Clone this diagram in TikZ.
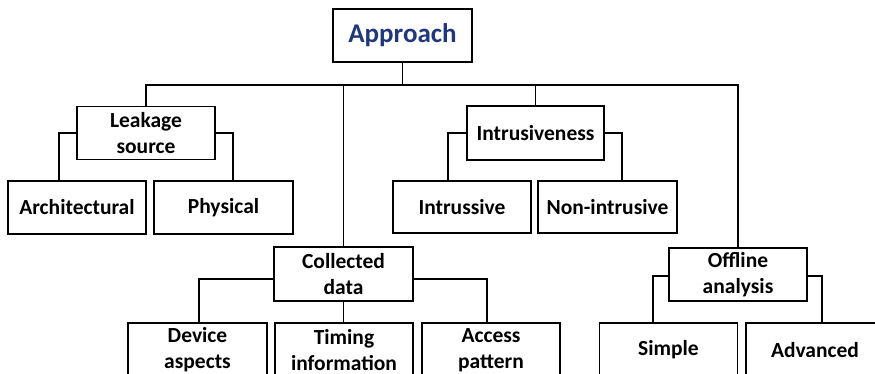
\documentclass[tikz,border=0pt]{standalone}
\usepackage{fontspec}
\setmainfont{Carlito}
\definecolor{headblue}{RGB}{32,56,122}
\begin{document}
\begin{tikzpicture}[x=1pt,y=-1pt,
  box/.style={draw=black, line width=1.8pt, rectangle, inner sep=0pt,
    minimum width=138pt, minimum height=53pt, align=center,
    font=\fontsize{21.5}{26}\selectfont\bfseries},
  link/.style={draw=black, line width=1.6pt}]
\useasboundingbox (0,0) rectangle (875,373);
\clip (0,0) rectangle (875,373);
\fill[white] (0,0) rectangle (875,373);

% root
\node[box, minimum width=139pt, text=headblue,
  font=\fontsize{27}{31}\selectfont\bfseries] (app) at (402.5,35.5) {Approach};

% first level
\node[box] (leak) at (146,133) {Leakage\\source};
\node[box, minimum width=137pt, minimum height=54pt] (intr) at (535.5,133) {Intrusiveness};
\node[box, minimum width=139pt, minimum height=54pt] (coll) at (343.5,274) {Collected\\data};
\node[box] (off) at (738,274.5) {Offline\\analysis};

% leaves
\node[box] (arch) at (77,207.5) {Architectural};
\node[box, minimum width=139pt] (phys) at (223.5,207.5) {Physical};
\node[box, minimum height=52pt] (intrus) at (462,207) {Intrussive};
\node[box, minimum width=139pt, minimum height=52pt] (nonint) at (607.5,207) {Non-intrusive};
\node[box, minimum width=139pt, minimum height=54pt] (dev) at (197.5,350) {Device\\aspects};
\node[box, minimum height=54pt] (tim) at (344,350) {Timing\\information};
\node[box, minimum height=54pt] (acc) at (491,350) {Access\\pattern};
\node[box, minimum height=54pt] (simp) at (668.5,350) {Simple};
\node[box, minimum height=54pt] (adv) at (815,350) {Advanced};

% main bus
\coordinate (bus) at (402.5,85);
\draw[link] (app.south) -- (bus);
\draw[link] (leak.north) |- (bus);
\draw[link] (bus) -| (off.north);
\draw[link] (coll.north) -- (coll.north |- bus);
\draw[link] (intr.north) -- (intr.north |- bus);

% leakage source
\draw[link] (leak.west) -| (arch.north -| 59,0);
\draw[link] (leak.east) -| (phys.north -| 233,0);

% intrusiveness
\draw[link] (intr.west) -| (intrus.north -| 448,0);
\draw[link] (intr.east) -| (nonint.north -| 622,0);

% collected data
\draw[link] ([yshift=-5pt]coll.west) -| (dev.north -| 199,0);
\draw[link] ([yshift=-5pt]coll.east) -| (acc.north -| 487,0);
\draw[link] (coll.south) -- (tim.north -| coll.south);

% offline analysis
\draw[link] ([yshift=-1.5pt]off.west) -| (simp.north -| 653,0);
\draw[link] ([yshift=-1.5pt]off.east) -| (adv.north -| 822,0);
\end{tikzpicture}
\end{document}
